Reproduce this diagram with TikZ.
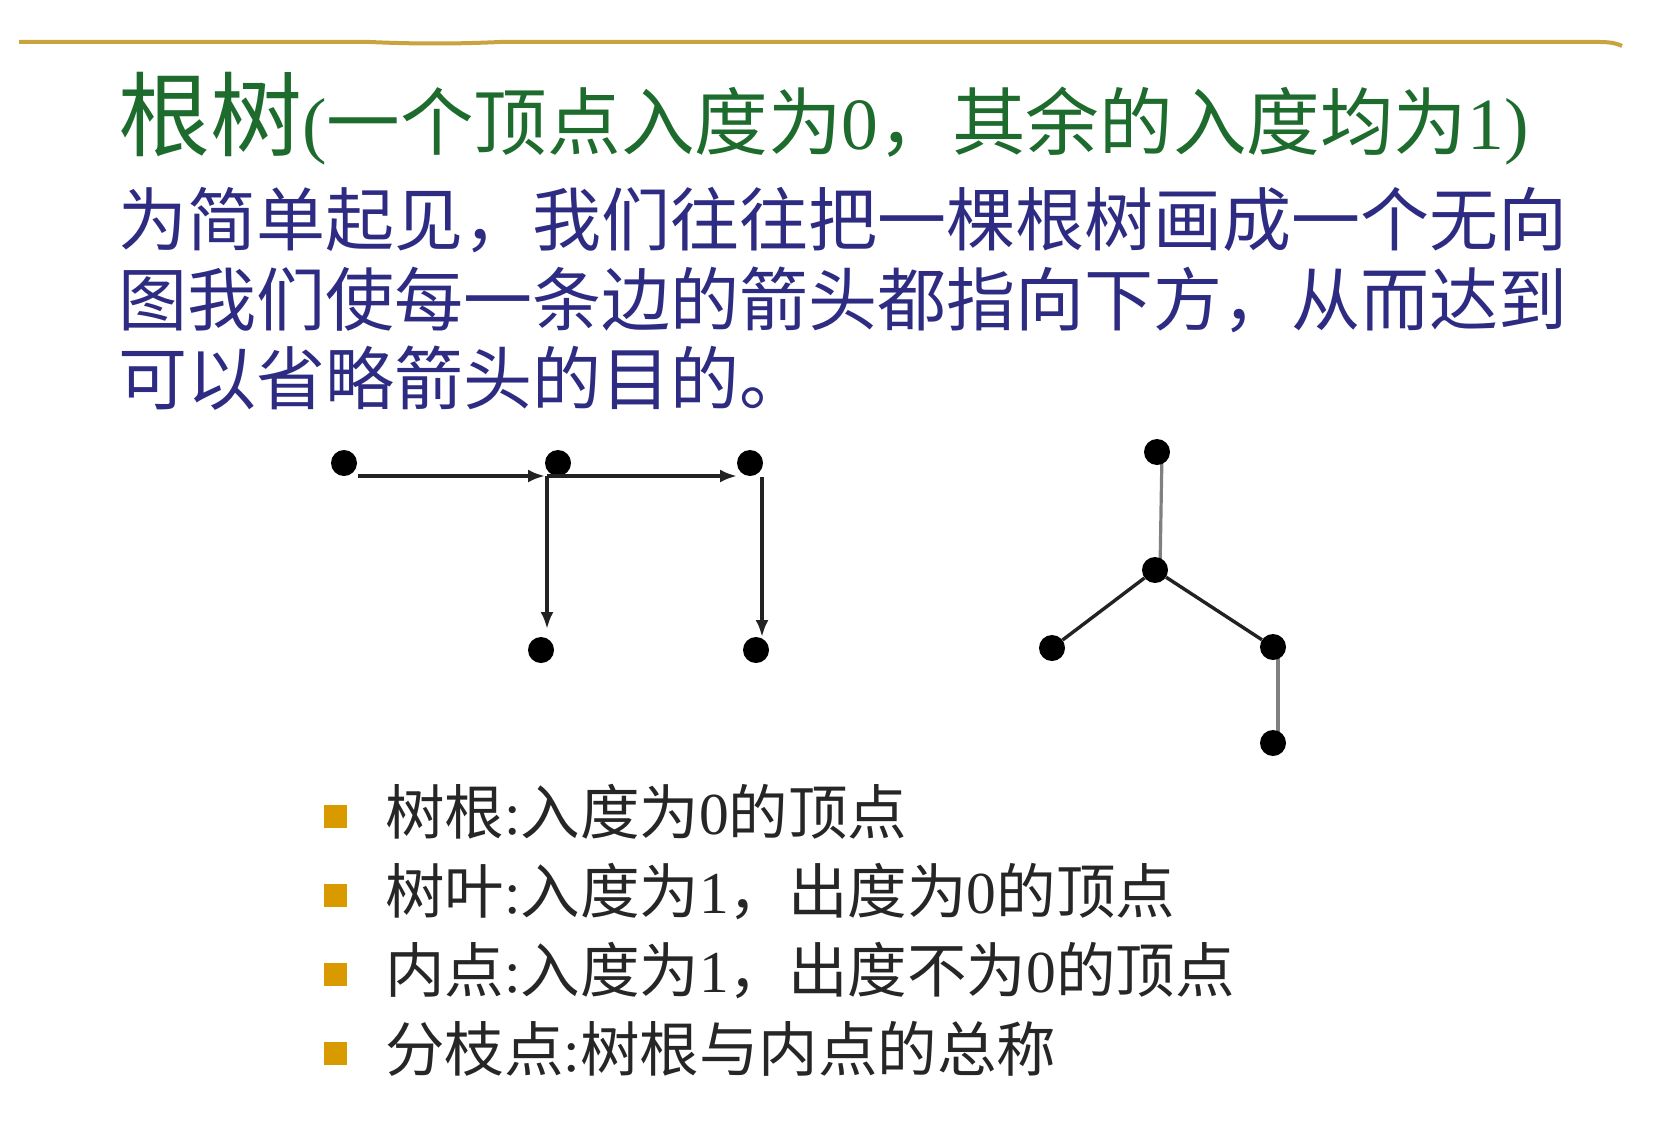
\documentclass[tikz,border=0pt]{standalone}
\usepackage{fontspec}
\setmainfont{Noto Sans CJK SC}
\newfontfamily\latf{Liberation Serif}
\newcommand\lf[1]{{\latf #1}}
\usetikzlibrary{arrows.meta,calc,backgrounds}
\definecolor{titlegreen}{HTML}{1E6B2E}
\definecolor{bodyblue}{HTML}{2E2C82}
\definecolor{rulegold}{HTML}{C9A33E}
\definecolor{bulletgold}{HTML}{D99A00}
\definecolor{edgegrey}{HTML}{808080}
\definecolor{edgedark}{HTML}{222222}
\tikzset{
  dot/.style={circle,fill=black,minimum size=26pt,inner sep=0pt},
  arr/.style={-{Latex[length=17pt,width=13pt]},line width=3.6pt,draw=edgedark},
  greyedge/.style={line width=3.2pt,draw=edgegrey},
  darkedge/.style={line width=3.4pt,draw=edgedark},
  txt/.style={inner sep=0pt,anchor=base west},
  bodytxt/.style={txt,text=bodyblue,font=\fontsize{69pt}{69pt}\selectfont},
  itemtxt/.style={txt,text=black!85,font=\fontsize{59.5pt}{59.5pt}\selectfont},
  bulletsq/.style={fill=bulletgold,minimum size=23pt,inner sep=0pt},
}
\begin{document}
\begin{tikzpicture}[x=1pt,y=-1pt]
\useasboundingbox (0,0) rectangle (1656,1132);
% top rule
\draw[rulegold,line width=4pt] (19,42) -- (370,42) .. controls (415,44) and (455,44) .. (500,42) -- (1600,42) .. controls (1612,42) and (1618,44) .. (1622,46);
% title
\node[txt,text=titlegreen] (title) at (118,149)
  {\fontsize{92pt}{92pt}\selectfont 根树\fontsize{73.6pt}{73.6pt}\selectfont\lf{(}一个顶点入度为\lf{0}，其余的入度均为\lf{1)}};
% paragraph
\node[bodytxt] (p1) at (118,245) {为简单起见，我们往往把一棵根树画成一个无向};
\node[bodytxt] (p2) at (118,325) {图我们使每一条边的箭头都指向下方，从而达到};
\node[bodytxt] (p3) at (118,404) {可以省略箭头的目的。};
% left graph
\node[dot] (a1) at (344,463) {};
\node[dot] (a2) at (558,463) {};
\node[dot] (a3) at (750,463) {};
\node[dot] (a4) at (541,650) {};
\node[dot] (a5) at (756,650) {};
\draw[arr] ($(a1)+(14,13)$) -- ($(a2)+(-13,13)$);
\draw[arr] ($(a2)+(-11,13)$) -- ($(a3)+(-13,13)$);
\draw[arr] ($(a2)+(-11,13)$) -- ($(a4)+(6,-21)$);
\draw[arr] ($(a3)+(12,14)$) -- ($(a5)+(6,-13)$);
% right graph
\node[dot] (b1) at (1157,452) {};
\node[dot] (b2) at (1155,570) {};
\node[dot] (b3) at (1052,648) {};
\node[dot] (b4) at (1273,647) {};
\node[dot] (b5) at (1273,743) {};
\begin{scope}[on background layer]
\fill[white] (0,0) rectangle (1656,1132);
\draw[greyedge] ($(b1)+(5,0)$) -- ($(b2)+(5,0)$);
\draw[darkedge] (b2) -- (b3);
\draw[darkedge] (b2) -- (b4);
\draw[greyedge] ($(b4)+(5,0)$) -- ($(b5)+(5,0)$);
\end{scope}
% bullets
\foreach \i/\yy in {1/816,2/895,3/974,4/1053}{
  \node[bulletsq] (sq\i) at (335,\yy) {};
}
\node[itemtxt] (l1) at (385,834) {树根\lf{:}入度为\lf{0}的顶点};
\node[itemtxt] (l2) at (385,913) {树叶\lf{:}入度为\lf{1}，出度为\lf{0}的顶点};
\node[itemtxt] (l3) at (385,992) {内点\lf{:}入度为\lf{1}，出度不为\lf{0}的顶点};
\node[itemtxt] (l4) at (385,1071) {分枝点\lf{:}树根与内点的总称};
\end{tikzpicture}
\end{document}
